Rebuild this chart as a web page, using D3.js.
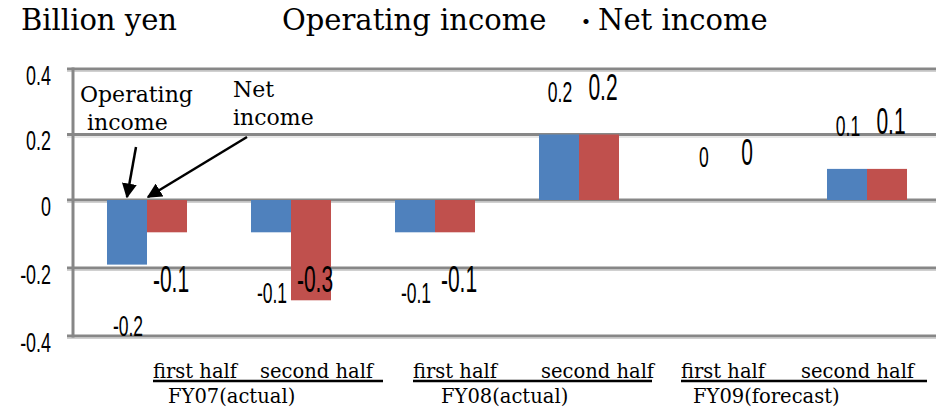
<!DOCTYPE html>
<html>
<head>
<meta charset="utf-8">
<script src="https://cdn.jsdelivr.net/npm/d3@7"></script>
<style>
  html, body { margin: 0; padding: 0; background: #fff; }
  svg { display: block; }
</style>
</head>
<body>
<div id="chart"></div>
<script>
// half-year periods, one bar pair each
const categories      = ["FY07 H1", "FY07 H2", "FY08 H1", "FY08 H2", "FY09 H1", "FY09 H2"];
const operatingIncome = [-0.19, -0.095, -0.095, 0.2, 0, 0.095];
const netIncome       = [-0.095, -0.295, -0.095, 0.2, 0, 0.095];
const yTicks          = [0.4, 0.2, 0, -0.2, -0.4];
const halfLabels      = ["first half", "second half", "first half", "second half", "first half", "second half"];
const yearLabels      = ["FY07(actual)", "FY08(actual)", "FY09(forecast)"];

const width  = 936,
      height = 409,
      blue   = "#4F81BD",
      red    = "#C0504D",
      grid   = "#878787",
      serif  = "'DejaVu Serif', 'Liberation Serif', serif",
      narrow = "'Liberation Sans', Arial, sans-serif";

// excel style labels use minus-hyphen and drop the trailing zero
const fmt = d3.formatLocale({decimal: ".", thousands: ",", grouping: [3], currency: ["", ""], minus: "-"})
  .format(".1~f");

const svg = d3.select("#chart").append("svg")
  .attr("width", width)
  .attr("height", height);

// zero line sits a little above the middle in the original
const y = d3.scaleLinear()
  .domain([-0.4, 0, 0.4])
  .range([336, 200, 69]);

const x0 = d3.scaleBand()
  .domain(categories)
  .range([75, 939])
  .paddingInner(0.4444)
  .paddingOuter(0.2222);

const x1 = d3.scaleBand()
  .domain(["op", "net"])
  .range([0, x0.bandwidth()]);

// gridlines + tick stubs
const gridG = svg.append("g");
gridG.selectAll("line.g2")
  .data(yTicks)
  .join("line")
  .attr("class", "g2")
  .attr("x1", 67).attr("x2", width)
  .attr("y1", d => y(d) + 2.5).attr("y2", d => y(d) + 2.5)
  .attr("stroke", "#d0d0d0").attr("stroke-width", 1);
gridG.selectAll("line.g1")
  .data(yTicks)
  .join("line")
  .attr("class", "g1")
  .attr("x1", 67).attr("x2", width)
  .attr("y1", d => y(d)).attr("y2", d => y(d))
  .attr("stroke", grid).attr("stroke-width", 3);
gridG.append("line")
  .attr("x1", 73).attr("x2", 73)
  .attr("y1", y(0.4) - 1.5).attr("y2", y(-0.4) + 1.5)
  .attr("stroke", grid).attr("stroke-width", 3);

// condensed text helper, the original numbers are very narrow
const narrowText = (parent, x, yy, size, sx, text, anchor) => {
  parent.append("g")
    .attr("transform", `translate(${x},${yy})`)
    .append("text")
    .attr("transform", `scale(${sx},1)`)
    .attr("text-anchor", anchor)
    .attr("font-family", narrow)
    .attr("font-size", size)
    .attr("fill", "#000")
    .text(text);
};

const tickG = svg.append("g");
yTicks.forEach(t => narrowText(tickG, 51, y(t) + 15.5, 28, 0.64, fmt(t), "end"));

// bars
const series = [
  {key: "op",  values: operatingIncome, color: blue},
  {key: "net", values: netIncome,       color: red}
];

const barG = svg.append("g");
series.forEach(s => {
  barG.selectAll(null)
    .data(s.values)
    .join("rect")
    .attr("x", (d, i) => x0(categories[i]) + x1(s.key))
    .attr("width", x1.bandwidth())
    .attr("y", d => y(Math.max(0, d)))
    .attr("height", d => Math.abs(y(d) - y(0)))
    .attr("fill", s.color);
});

// value labels
const labelG = svg.append("g");
operatingIncome.forEach((v, i) => {
  const cx = x0(categories[i]) + x1("op") + x1.bandwidth() / 2 + 1;
  const by = v >= 0 ? y(v) - 33 : y(v) + 71;
  narrowText(labelG, cx, by, 30, 0.585, fmt(v), "middle");
});
netIncome.forEach((v, i) => {
  const cx = x0(categories[i]) + x1("net") + x1.bandwidth() / 2 + 4;
  const by = v >= 0 ? y(v) - 35 : Math.min(y(v) + 61, y(-0.4) - 44);
  narrowText(labelG, cx, by, 37.5, 0.56, fmt(v), "middle");
});

// title row
const title = svg.append("g")
  .attr("font-family", serif)
  .attr("font-size", 29)
  .attr("fill", "#000");
title.append("text").attr("x", 21).attr("y", 30).text("Billion yen");
title.append("text").attr("x", 282).attr("y", 30).text("Operating income");
const netTitle = title.append("text").attr("y", 30);
netTitle.append("tspan").attr("x", 574)
  .attr("font-family", "'Noto Sans CJK JP', sans-serif").attr("font-size", 24)
  .text("・");
netTitle.append("tspan").attr("x", 598).text("Net income");

// callouts pointing at the first pair of bars
const notes = svg.append("g")
  .attr("font-family", serif)
  .attr("font-size", 22)
  .attr("fill", "#000");
notes.append("text").attr("x", 80).attr("y", 102).text("Operating");
notes.append("text").attr("x", 87).attr("y", 130).text("income");
notes.append("text").attr("x", 233).attr("y", 97).text("Net");
notes.append("text").attr("x", 233).attr("y", 125).text("income");

svg.append("defs").append("marker")
  .attr("id", "head")
  .attr("viewBox", "0 0 10 10")
  .attr("refX", 9).attr("refY", 5)
  .attr("markerWidth", 6).attr("markerHeight", 6)
  .attr("markerUnits", "strokeWidth")
  .attr("orient", "auto")
  .append("path")
  .attr("d", "M0,0L10,5L0,10Z")
  .attr("fill", "#000");

const opTip  = [x0(categories[0]) + x1("op") + x1.bandwidth() / 2, y(0) - 3];
const netTip = [x0(categories[0]) + x1("net"), y(0) - 3];
svg.append("line")
  .attr("x1", 136).attr("y1", 147)
  .attr("x2", opTip[0]).attr("y2", opTip[1])
  .attr("stroke", "#000").attr("stroke-width", 2.5)
  .attr("marker-end", "url(#head)");
svg.append("line")
  .attr("x1", 247).attr("y1", 137)
  .attr("x2", netTip[0] + 1).attr("y2", netTip[1])
  .attr("stroke", "#000").attr("stroke-width", 2.5)
  .attr("marker-end", "url(#head)");

// period labels under the plot, laid out like the original text boxes
const halfX  = [153, 260, 413, 541, 681, 801];
const lineX  = [[153, 383], [413, 652], [681, 927]];
const yearX  = [168, 441, 693];

const xl = svg.append("g")
  .attr("font-family", serif)
  .attr("font-size", 19.5)
  .attr("fill", "#000");
xl.selectAll("text.half")
  .data(halfLabels)
  .join("text")
  .attr("class", "half")
  .attr("x", (d, i) => halfX[i])
  .attr("y", 378)
  .text(d => d);
xl.selectAll("line")
  .data(lineX)
  .join("line")
  .attr("x1", d => d[0]).attr("x2", d => d[1])
  .attr("y1", 381).attr("y2", 381)
  .attr("stroke", "#000").attr("stroke-width", 2.5);
xl.selectAll("text.year")
  .data(yearLabels)
  .join("text")
  .attr("class", "year")
  .attr("x", (d, i) => yearX[i])
  .attr("y", 403)
  .text(d => d);
</script>
</body>
</html>
